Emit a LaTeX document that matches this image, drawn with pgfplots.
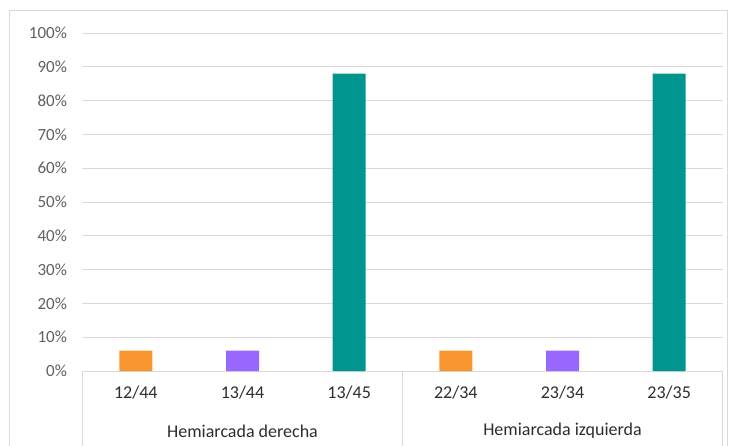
\documentclass[border=0pt]{standalone}
\usepackage{pgfplots}
\pgfplotsset{compat=1.18}
\usepackage{fontspec}
\setmainfont{Carlito}
\definecolor{barorange}{RGB}{249,150,48}
\definecolor{barpurple}{RGB}{153,102,255}
\definecolor{barteal}{RGB}{0,150,143}
\definecolor{gridgray}{RGB}{217,217,217}
\definecolor{labgray}{RGB}{96,96,96}
\definecolor{txtdark}{RGB}{45,45,45}
\begin{document}
\begin{tikzpicture}
\clip (0pt,0pt) rectangle (734pt,445pt);
\useasboundingbox (0pt,0pt) rectangle (734pt,445pt);
% chart area frame
\draw[gridgray, line width=1pt] (9pt,-10pt) rectangle (727pt,434pt);
% descender of the title above the frame
\node[anchor=base, font=\fontsize{18}{20}\selectfont\bfseries, inner sep=0pt] at (218pt,447.5pt) {p};
\begin{axis}[
  at={(82.5pt,74pt)}, anchor=south west,
  scale only axis, width=640pt, height=338pt,
  xmin=-0.5, xmax=5.5, ymin=0, ymax=100,
  ytick={0,10,...,100},
  yticklabel={\pgfmathprintnumber{\tick}\%},
  yticklabel style={font=\fontsize{17}{19}\selectfont, text=labgray, xshift=-12pt},
  xtick={0,1,2,3,4,5},
  xticklabels={12/44,13/44,13/45,22/34,23/34,23/35},
  xticklabel style={font=\fontsize{18}{20}\selectfont, text=txtdark, yshift=-11pt},
  major tick length=0pt,
  ymajorgrids, grid style={gridgray, line width=1pt},
  axis x line*=bottom, axis y line*=left,
  x axis line style={gridgray, line width=1pt, -},
  y axis line style={draw=none},
  ybar, bar width=33pt, bar shift=0pt,
  clip=false,
  /pgf/number format/assume math mode=true,
]
\addplot[fill=barorange, draw=none] coordinates {(0,6) (3,6)};
\addplot[fill=barpurple, draw=none] coordinates {(1,6) (4,6)};
\addplot[fill=barteal, draw=none] coordinates {(2,88) (5,88)};
% group separators and group names of the two-level category axis
\draw[gridgray, line width=1pt] (axis cs:-0.5,0) -- ([yshift=-90pt]axis cs:-0.5,0);
\draw[gridgray, line width=1pt] (axis cs:2.5,0) -- ([yshift=-90pt]axis cs:2.5,0);
\draw[gridgray, line width=1pt] (axis cs:5.5,0) -- ([yshift=-90pt]axis cs:5.5,0);
\node[font=\fontsize{18}{20}\selectfont, text=txtdark] at ([yshift=-60pt]axis cs:1,0) {Hemiarcada derecha};
\node[font=\fontsize{18}{20}\selectfont, text=txtdark] at ([yshift=-60pt]axis cs:4,0) {Hemiarcada izquierda};
\end{axis}
\end{tikzpicture}
\end{document}
